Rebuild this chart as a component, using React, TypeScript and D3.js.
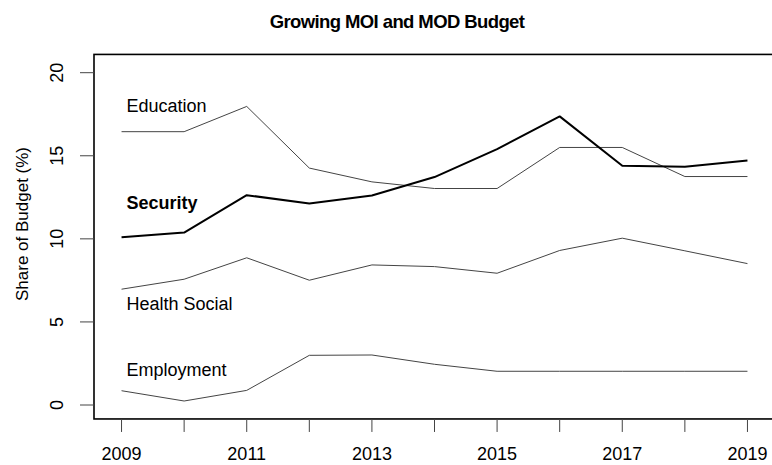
import React, { useEffect, useRef } from "react";
import * as d3 from "d3";

const years = [2009, 2010, 2011, 2012, 2013, 2014, 2015, 2016, 2017, 2018, 2019];
const education = [16.45, 16.45, 17.97, 14.26, 13.43, 13.03, 13.03, 15.5, 15.5, 13.75, 13.75];
const security = [10.1, 10.38, 12.63, 12.13, 12.61, 13.72, 15.4, 17.37, 14.4, 14.34, 14.72];
const healthSocial = [6.97, 7.57, 8.86, 7.51, 8.43, 8.33, 7.93, 9.3, 10.04, 9.28, 8.51];
const employment = [0.86, 0.24, 0.88, 2.99, 3.01, 2.45, 2.03, 2.03, 2.03, 2.03, 2.03];

const seriesNames = ["Education", "Security", "Health Social", "Employment"];
const seriesValues = [education, security, healthSocial, employment];
const labelValues = [18.0, 12.2, 6.1, 2.1];
const yTicks = [0, 5, 10, 15, 20];
const xLabelTicks = [2009, 2011, 2013, 2015, 2017, 2019];

const W = 772;
const H = 465;
const FONT = "'Liberation Sans', Arial, sans-serif";

const App = () => {
  const ref = useRef<SVGSVGElement>(null);

  useEffect(() => {
    const svg = d3.select(ref.current);
    svg.selectAll("*").remove();

    const x = d3.scaleLinear().domain([2008.56, 2019.44]).range([94, 775]);
    const y = d3.scaleLinear().domain([0, 20]).range([405, 72.7]);
    const top = y(21.1);
    const bottom = y(-0.84);

    // title
    svg
      .append("text")
      .attr("x", 397)
      .attr("y", 28)
      .attr("text-anchor", "middle")
      .style("font-family", FONT)
      .style("font-weight", "bold")
      .style("font-size", "18.5px")
      .style("letter-spacing", "-0.6px")
      .text("Growing MOI and MOD Budget");

    // lines
    const line = d3
      .line<number>()
      .x((d, i) => x(years[i]))
      .y((d) => y(d));

    seriesValues.forEach((vals, i) => {
      const isSec = seriesNames[i] === "Security";
      svg
        .append("path")
        .attr("d", line(vals))
        .attr("fill", "none")
        .attr("stroke", isSec ? "#000" : "#444")
        .attr("stroke-width", isSec ? 2 : 1)
        .attr("stroke-linejoin", "round");
    });

    // series labels
    seriesNames.forEach((name, i) => {
      svg
        .append("text")
        .attr("x", x(years[0]) + 5)
        .attr("y", y(labelValues[i]))
        .attr("dy", "0.35em")
        .style("font-family", FONT)
        .style("font-size", "18px")
        .style("font-weight", name === "Security" ? "bold" : "normal")
        .text(name);
    });

    // box
    svg
      .append("rect")
      .attr("x", 94)
      .attr("y", top)
      .attr("width", 775 - 94)
      .attr("height", bottom - top)
      .attr("fill", "none")
      .attr("stroke", "#000")
      .attr("stroke-width", 1.6);

    // x axis ticks
    svg
      .selectAll("line.xt")
      .data(years)
      .join("line")
      .attr("class", "xt")
      .attr("x1", (d) => x(d))
      .attr("x2", (d) => x(d))
      .attr("y1", bottom)
      .attr("y2", bottom + 13)
      .attr("stroke", "#444")
      .attr("stroke-width", 1);

    svg
      .selectAll("text.xl")
      .data(xLabelTicks)
      .join("text")
      .attr("class", "xl")
      .attr("x", (d) => x(d))
      .attr("y", 460)
      .attr("text-anchor", "middle")
      .style("font-family", FONT)
      .style("font-size", "18px")
      .text((d) => d);

    // y axis ticks
    svg
      .selectAll("line.yt")
      .data(yTicks)
      .join("line")
      .attr("class", "yt")
      .attr("x1", 80)
      .attr("x2", 94)
      .attr("y1", (d) => y(d))
      .attr("y2", (d) => y(d))
      .attr("stroke", "#444")
      .attr("stroke-width", 1);

    svg
      .selectAll("text.yl")
      .data(yTicks)
      .join("text")
      .attr("class", "yl")
      .attr("transform", (d) => `translate(63,${y(d)}) rotate(-90)`)
      .attr("text-anchor", "middle")
      .style("font-family", FONT)
      .style("font-size", "18px")
      .text((d) => d);

    svg
      .append("text")
      .attr("transform", `translate(28,224) rotate(-90)`)
      .attr("text-anchor", "middle")
      .style("font-family", FONT)
      .style("font-size", "17px")
      .text("Share of Budget (%)");
  }, []);

  return (
    <svg
      ref={ref}
      width={W}
      height={H}
      style={{ position: "absolute", left: 0, top: 0, background: "#fff" }}
    />
  );
};

export default App;
